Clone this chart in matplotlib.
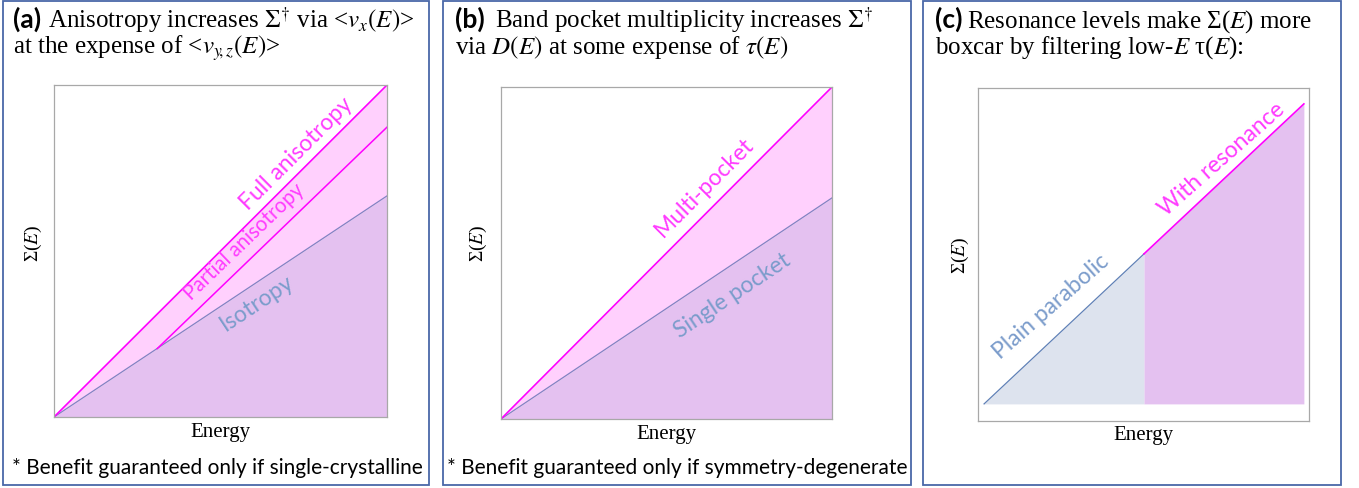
import math
import matplotlib
matplotlib.use("Agg")
import matplotlib.pyplot as plt
from matplotlib.patches import Rectangle

plt.rcParams['mathtext.fontset'] = 'stix'

W, H = 1359, 489

# panel (a): isotropy / partial / full anisotropy
a_energy = [0.0, 1.0]
a_iso = [0.0, 0.666]
a_full = [0.0, 1.0]
a_partial_energy = [0.31, 1.0]
a_partial = [0.206, 0.873]

# panel (b): single / multi pocket
b_energy = [0.0, 1.0]
b_single = [0.0, 0.666]
b_multi = [0.0, 1.0]

# panel (c): plain parabolic below the resonance, boxcar above
c_low_energy = [0.0, 0.5]
c_low = [0.0, 0.5]
c_high_energy = [0.5, 1.0]
c_high = [0.5, 1.0]

MAG = '#ff00ff'
MAG_TXT = '#ff3bff'
PINK = '#ffd0fd'
LAV = '#e4c1f0'
ISO = '#8282c2'
BLUE_TXT = '#7b9ccb'
PLAIN = '#5f80b6'
PLAIN_FILL = '#dde3ee'
FRAME = '#4a68a8'
SERIF = 'Liberation Serif'
SANS = 'Lato'

fig = plt.figure(figsize=(W / 100, H / 100), dpi=100)


def fx(x):
    return x / W


def fy(y):
    return 1 - y / H


def add_ax(x0, y0, x1, y1):
    ax = fig.add_axes([fx(x0), fy(y1), (x1 - x0) / W, (y1 - y0) / H])
    ax.set_xticks([])
    ax.set_yticks([])
    for s in ax.spines.values():
        s.set_color('#a8a8a8')
        s.set_linewidth(0.9)
    return ax


def border(x0, y0, x1, y1):
    fig.patches.append(Rectangle((fx(x0), fy(y1)), (x1 - x0) / W, (y1 - y0) / H,
                                 transform=fig.transFigure, fill=False,
                                 edgecolor=FRAME, linewidth=1.3))


def title(xtag, tag, xrest, line1, line2):
    fig.text(fx(xtag), fy(28), tag, family=SANS, weight='bold', fontsize=19, va='baseline')
    fig.text(fx(xrest), fy(28), line1, family=SERIF, fontsize=18, va='baseline')
    fig.text(fx(xtag), fy(54), line2, family=SERIF, fontsize=18, va='baseline')


def axis_labels(xc, yx, xy, yc):
    fig.text(fx(xc), fy(yx), 'Energy', family=SERIF, fontsize=15, ha='center', va='center')
    fig.text(fx(xy), fy(yc), r'Σ($E$)', family=SERIF, fontsize=14, ha='center',
             va='center', rotation=90)


def line_label(ax, x, y, txt, slope, color, size=16.5):
    ang = math.degrees(math.atan(slope))
    ax.text(x, y, txt, family=SANS, fontsize=size, color=color, ha='center', va='center',
            rotation=ang, rotation_mode='anchor', transform_rotates_text=True)


border(3, 2, 429, 486)
border(443, 2, 911, 486)
border(923, 2, 1341, 486)

# ---- (a)
ax = add_ax(54, 86, 387, 418)
ax.set_xlim(0, 1)
ax.set_ylim(0, 1)
ax.fill_between(a_energy, a_iso, a_full, color=PINK, lw=0)
ax.fill_between(a_energy, 0, a_iso, color=LAV, lw=0)
ax.plot(a_energy, a_iso, color=ISO, lw=0.9)
ax.plot(a_partial_energy, a_partial, color=MAG, lw=1.1)
ax.plot(a_energy, a_full, color=MAG, lw=1.2)
line_label(ax, 0.729, 0.795, 'Full anisotropy', 1.0, MAG_TXT)
line_label(ax, 0.572, 0.53, 'Partial anisotropy', 0.965, MAG_TXT, size=14.8)
line_label(ax, 0.61, 0.346, 'Isotropy', 0.666, BLUE_TXT)
title(13, '(a)', 48, r'Anisotropy increases $\Sigma^{\dagger}$ via <$v_x(E)$>',
      r'at the expense of <$v_{y\!,z}(E)$>')
axis_labels(220, 433, 33, 243)
fig.text(fx(12), fy(474), '* Benefit guaranteed only if single-crystalline',
         family=SANS, fontsize=15, va='baseline')

# ---- (b)
ax = add_ax(501, 88, 832, 420)
ax.set_xlim(0, 1)
ax.set_ylim(0, 1)
ax.fill_between(b_energy, b_single, b_multi, color=PINK, lw=0)
ax.fill_between(b_energy, 0, b_single, color=LAV, lw=0)
ax.plot(b_energy, b_single, color=ISO, lw=0.9)
ax.plot(b_energy, b_multi, color=MAG, lw=1.2)
line_label(ax, 0.616, 0.699, 'Multi-pocket', 1.0, MAG_TXT)
line_label(ax, 0.698, 0.373, 'Single pocket', 0.666, BLUE_TXT)
title(455, '(b)', 495, r'Band pocket multiplicity increases $\Sigma^{\dagger}$',
      r'via $D(E)$ at some expense of $\tau(E)$')
axis_labels(666, 435, 478, 243)
fig.text(fx(447), fy(474), '* Benefit guaranteed only if symmetry-degenerate',
         family=SANS, fontsize=15, va='baseline')

# ---- (c)
ax = add_ax(978, 89, 1309, 422)
ax.set_xlim(-0.019, 1.016)
ax.set_ylim(-0.057, 1.053)
ax.fill_between(c_low_energy, 0, c_low, color=PLAIN_FILL, lw=0)
ax.fill_between(c_high_energy, 0, c_high, color=LAV, lw=0)
ax.plot(c_low_energy, c_low, color=PLAIN, lw=0.9)
ax.plot(c_high_energy, c_high, color=MAG, lw=1.2)
line_label(ax, 0.743, 0.82, 'With resonance', 300 / 320, MAG_TXT)
line_label(ax, 0.208, 0.326, 'Plain parabolic', 300 / 320, BLUE_TXT)
title(935, '(c)', 967, r'Resonance levels make Σ($E$) more',
      r'boxcar by filtering low-$E$ τ($E$):')
axis_labels(1143, 436, 960, 255)

fig.savefig('out.png', dpi=100)
